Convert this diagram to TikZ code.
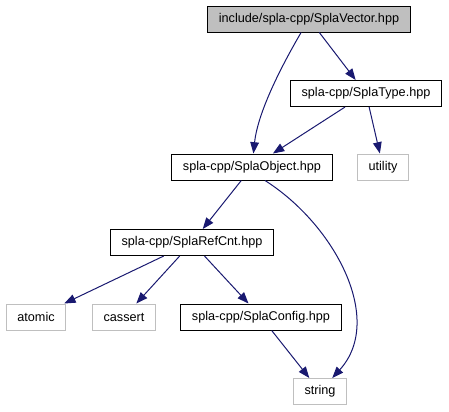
\documentclass[tikz,border=0pt]{standalone}
\usepackage{fontspec}
\setmainfont{Liberation Sans}
\usepackage{tikz}
\usetikzlibrary{arrows.meta, positioning, calc}

\begin{document}
\begin{tikzpicture}[
    x=0.75pt, y=-0.75pt,
    >={Triangle[length=8.5pt, width=6.5pt]},
    file/.style={draw, align=center, minimum height=19.5pt,
                 inner xsep=8.5pt, inner ysep=2pt,
                 font=\fontsize{9.5}{11}\selectfont, line width=0.75pt},
    sys/.style={file, draw=cbox},
    arr/.style={->, draw=cedge, line width=0.75pt},
]
% ---- 颜色 ----
\definecolor{cedge}{HTML}{191970}  % 依赖边
\definecolor{cbox}{HTML}{BFBFBF}   % 系统头文件边框
\definecolor{croot}{HTML}{BFBFBF}  % 根文件填充
\useasboundingbox (0,0) rectangle (449,411);
% ---- 节点 ----
\node[file, fill=croot] (vector)  at (309, 19)    {include/spla-cpp/SplaVector.hpp};
\node[file]             (type)    at (366, 93.5)  {spla-cpp/SplaType.hpp};
\node[file]             (object)  at (252, 167)   {spla-cpp/SplaObject.hpp};
\node[sys]              (utility) at (383, 167)   {utility};
\node[file]             (refcnt)  at (192, 242.5) {spla-cpp/SplaRefCnt.hpp};
\node[sys]              (atomic)  at (36, 317)    {atomic};
\node[sys]              (cassert) at (124, 317)   {cassert};
\node[file]             (config)  at (261, 317)   {spla-cpp/SplaConfig.hpp};
\node[sys]              (string)  at (320, 391.5) {string};

% ---- 依赖边 ----
\draw[arr] (vector) .. controls (285, 60) and (258, 110) .. (object);
\draw[arr] (vector) -- (type);
\draw[arr] (type) -- (object);
\draw[arr] (type) -- (utility);
\draw[arr] (object) -- (refcnt);
\draw[arr] ($(object.south)+(13,0)$) .. controls (335, 225) and (385, 320) .. (string);
\draw[arr] (refcnt) -- (atomic);
\draw[arr] (refcnt) -- (cassert);
\draw[arr] (refcnt) -- (config);
\draw[arr] (config) -- (string);
\end{tikzpicture}
\end{document}
